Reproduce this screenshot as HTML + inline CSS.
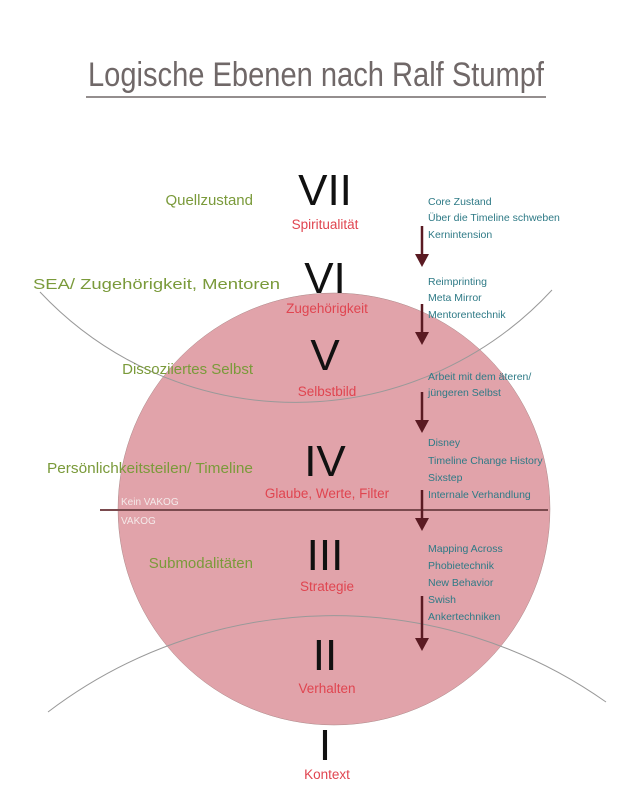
<!DOCTYPE html>
<html><head><style>
body{margin:0;background:#fff;}
svg text{font-family:"Liberation Sans",sans-serif;}
.n{font-size:44px;fill:#111;text-anchor:middle;font-weight:normal}
.r{font-size:13.5px;fill:#e04550;text-anchor:middle}
.g{font-size:15px;fill:#7a9a3a;text-anchor:end}
.t{font-size:10.5px;fill:#2e7a86}
</style></head><body>
<svg width="628" height="805" viewBox="0 0 628 805" xmlns="http://www.w3.org/2000/svg">
<text x="88" y="86" font-size="34" fill="#706868" textLength="456" lengthAdjust="spacingAndGlyphs">Logische Ebenen nach Ralf Stumpf</text>
<line x1="86" y1="97" x2="546" y2="97" stroke="#706868" stroke-width="1.5"/>
<circle cx="334" cy="509" r="216" fill="#e1a3aa" stroke="#a88" stroke-width="0.5"/>
<path d="M40 292 A350 350 0 0 0 552 290" fill="none" stroke="#999" stroke-width="1"/>
<path d="M48 712 A472 472 0 0 1 606 702" fill="none" stroke="#999" stroke-width="1"/>
<line x1="100" y1="510" x2="548" y2="510" stroke="#7a4a4e" stroke-width="2"/>
<g class="n">
<text x="325" y="205">VII</text><text x="325" y="293">VI</text><text x="325" y="370">V</text>
<text x="325" y="476">IV</text><text x="325" y="570">III</text><text x="325" y="670">II</text><text x="325" y="760">I</text>
</g>
<g class="r">
<text x="325" y="229">Spiritualität</text><text x="327" y="313">Zugehörigkeit</text><text x="327" y="396">Selbstbild</text>
<text x="327" y="498">Glaube, Werte, Filter</text><text x="327" y="591">Strategie</text><text x="327" y="693">Verhalten</text><text x="327" y="779">Kontext</text>
</g>
<g class="g">
<text x="253" y="205">Quellzustand</text>
<text x="33" y="289" text-anchor="start" textLength="247" lengthAdjust="spacingAndGlyphs">SEA/ Zugehörigkeit, Mentoren</text>
<text x="253" y="374">Dissoziiertes Selbst</text>
<text x="47" y="473" text-anchor="start" textLength="206" lengthAdjust="spacingAndGlyphs">Persönlichkeitsteilen/ Timeline</text>
<text x="253" y="568">Submodalitäten</text>
</g>
<text x="121" y="505" font-size="10" fill="#f4eaea">Kein VAKOG</text>
<text x="121" y="524" font-size="10" fill="#f4eaea">VAKOG</text>
<g class="t">
<text x="428" y="205">Core Zustand</text><text x="428" y="221">Über die Timeline schweben</text><text x="428" y="238">Kernintension</text>
<text x="428" y="285">Reimprinting</text><text x="428" y="301">Meta Mirror</text><text x="428" y="318">Mentorentechnik</text>
<text x="428" y="380">Arbeit mit dem äteren/</text><text x="428" y="396">jüngeren Selbst</text>
<text x="428" y="446">Disney</text><text x="428" y="464">Timeline Change History</text><text x="428" y="481">Sixstep</text><text x="428" y="498">Internale Verhandlung</text>
<text x="428" y="552">Mapping Across</text><text x="428" y="569">Phobietechnik</text><text x="428" y="586">New Behavior</text><text x="428" y="603">Swish</text><text x="428" y="620">Ankertechniken</text>
</g>
<g stroke="#5a1a22" stroke-width="2.5" fill="#5a1a22">
<line x1="422" y1="226" x2="422" y2="258"/><polygon points="415,254 429,254 422,267" stroke="none"/>
<line x1="422" y1="304" x2="422" y2="336"/><polygon points="415,332 429,332 422,345" stroke="none"/>
<line x1="422" y1="392" x2="422" y2="424"/><polygon points="415,420 429,420 422,433" stroke="none"/>
<line x1="422" y1="490" x2="422" y2="522"/><polygon points="415,518 429,518 422,531" stroke="none"/>
<line x1="422" y1="596" x2="422" y2="642"/><polygon points="415,638 429,638 422,651" stroke="none"/>
</g>
</svg>
</body></html>
